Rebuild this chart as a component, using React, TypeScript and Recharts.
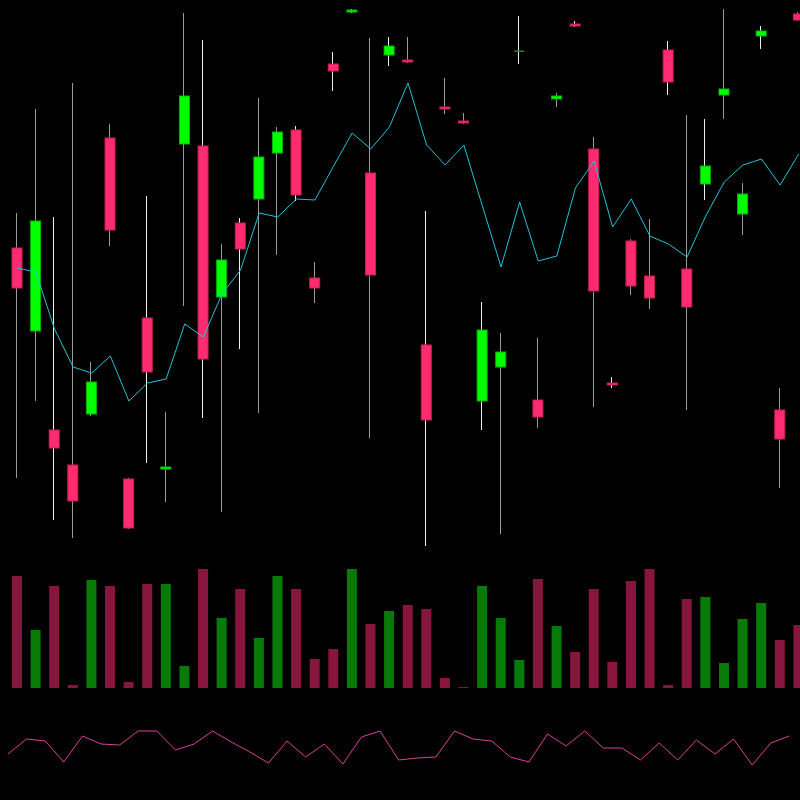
import React from 'react';
import { ComposedChart, BarChart, LineChart, Bar, Line, Cell, XAxis, YAxis } from 'recharts';

// Price series (one entry per session)
const OPEN = [312, 229, 130, 95, 146, 422, 81, 242, 91, 416, 414, 263, 337, 361, 407, 430, 282, 496, 548, 387, 505, 500, 215, 453, 439, 159, 193, 509, 160, 461, 536, 411, 177, 319, 284, 510, 291, 376, 465, 346, 524, 150, 546];
const HIGH = [347, 451, 343, 477, 198, 436, 82, 364, 148, 547, 520, 316, 342, 462, 433, 434, 298, 508, 551, 522, 523, 523, 349, 482, 447, 258, 227, 544, 222, 467, 539, 423, 183, 321, 341, 519, 445, 441, 551, 377, 534, 172, 548];
const LOW = [82, 159, 40, 22, 144, 314, 31, 97, 58, 254, 142, 48, 211, 147, 305, 359, 257, 469, 547, 122, 494, 497, 14, 446, 436, 130, 26, 496, 132, 453, 533, 153, 172, 265, 251, 465, 150, 360, 441, 325, 511, 72, 539];
const CLOSE = [272, 339, 112, 59, 178, 330, 32, 188, 93, 464, 201, 300, 311, 403, 428, 365, 272, 489, 550, 285, 514, 498, 140, 451, 437, 230, 208, 509, 143, 464, 534, 269, 175, 274, 262, 478, 253, 394, 471, 366, 529, 121, 540];
const MA = [292, 288, 231, 193, 187, 204, 159, 177, 181, 236, 223, 266, 290, 347, 343, 361, 360, 394, 427, 411, 433, 477, 415, 395, 415, 354, 293, 358, 299, 304, 372, 399, 333, 361, 324, 316, 303, 344, 378, 395, 401, 375, 406];
const VOLUME = [112, 58, 102, 3, 108, 102, 6, 104, 104, 22, 119, 70, 99, 50, 112, 99, 29, 39, 119, 64, 77, 83, 79, 10, 1, 102, 70, 28, 109, 62, 36, 99, 26, 107, 119, 3, 89, 91, 25, 69, 85, 48, 63];
const OSC = [46, 61, 59, 38, 64, 56, 55, 69, 69, 50, 56, 69, 58, 48, 37, 59, 43, 56, 36, 63, 69, 40, 42, 43, 69, 61, 59, 43, 38, 66, 54, 69, 52, 52, 40, 57, 40, 60, 46, 61, 35, 57, 64];

// styling
const UP = '#00ff00';
const UP_EDGE = '#00b400';
const DOWN = '#ff2b70';
const DOWN_EDGE = '#c81e56';
const VOL_UP = '#087a08';
const VOL_DOWN = '#87163e';
const WICK = '#9a9a9a';
const WICK_BRIGHT = '#f0f0f0';
const BRIGHT_WICKS = new Set([2, 7, 10, 12, 15, 17, 18, 20, 22, 25, 27, 30, 32, 35, 37, 40]);

const data = OPEN.map((open, i) => ({
  i,
  open,
  high: HIGH[i],
  low: LOW[i],
  close: CLOSE[i],
  ma: MA[i],
  volume: VOLUME[i],
  osc: OSC[i],
}));

const Candle = (props: any) => {
  const { x, y, width, height, payload } = props;
  const top = Math.min(y, y + height);
  const bottom = Math.max(y, y + height);
  const { open, close, high, low, i } = payload;
  const k = high === low ? 0 : (bottom - top) / (high - low);
  const py = (v: number) => bottom - (v - low) * k;
  const up = close >= open;
  const cx = Math.round(x + width / 2) - 0.5;
  const bTop = py(Math.max(open, close));
  const bBot = py(Math.min(open, close));
  const flat = bBot - bTop < 1;
  return (
    <g>
      <line x1={cx} x2={cx} y1={top} y2={bottom} stroke={BRIGHT_WICKS.has(i) ? WICK_BRIGHT : WICK} strokeWidth={1} />
      {flat ? (
        <rect x={x} y={bTop - 0.5} width={width} height={1.5} fill={up ? '#2e7d32' : DOWN_EDGE} />
      ) : (
        <rect
          x={x}
          y={bTop}
          width={width}
          height={bBot - bTop}
          fill={up ? UP : DOWN}
          stroke={up ? UP_EDGE : DOWN_EDGE}
          strokeWidth={1}
        />
      )}
    </g>
  );
};

const noMargin = { top: 0, right: 0, bottom: 0, left: 0 };

export default function App() {
  if (typeof document !== 'undefined') document.body.style.background = '#000';
  return (
    // fixed so the overflow past the right edge creates no scrollbars
    <div
      style={{
        position: 'fixed',
        left: 0,
        top: 0,
        width: 800,
        height: 800,
        overflow: 'hidden',
        background: '#000',
      }}
    >
      <div style={{ position: 'absolute', left: 8, top: 8, width: 800 }}>
        {/* price + moving average */}
        <ComposedChart width={800} height={552} data={data} margin={noMargin}>
          <XAxis dataKey="i" hide />
          <YAxis hide domain={[0, 552]} allowDataOverflow />
          <Bar
            dataKey={(d: any) => [d.low, d.high]}
            barSize={10}
            shape={Candle}
            isAnimationActive={false}
          />
          <Line
            type="linear"
            dataKey="ma"
            stroke="#1fc3d4"
            strokeWidth={1}
            dot={false}
            isAnimationActive={false}
          />
        </ComposedChart>

        {/* volume */}
        <BarChart width={800} height={128} data={data} margin={noMargin}>
          <XAxis dataKey="i" hide />
          <YAxis hide domain={[0, 128]} allowDataOverflow />
          <Bar dataKey="volume" barSize={10} isAnimationActive={false}>
            {data.map((d) => (
              <Cell key={d.i} fill={d.close >= d.open ? VOL_UP : VOL_DOWN} />
            ))}
          </Bar>
        </BarChart>

        {/* oscillator */}
        <LineChart width={800} height={112} data={data} margin={noMargin}>
          <XAxis dataKey="i" type="number" domain={[0, 43]} hide />
          <YAxis hide domain={[0, 112]} allowDataOverflow />
          <Line
            type="linear"
            dataKey="osc"
            stroke="#d9409b"
            strokeWidth={1}
            dot={false}
            isAnimationActive={false}
          />
        </LineChart>
      </div>
    </div>
  );
}
